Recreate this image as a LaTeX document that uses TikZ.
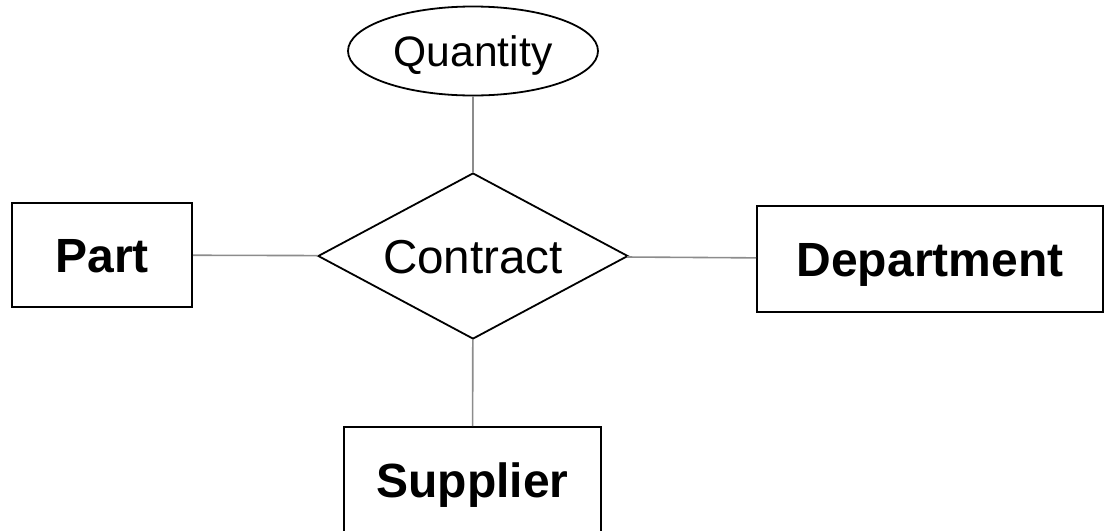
\documentclass[tikz,border=0pt]{standalone}
\usepackage{fontspec}
\setmainfont{Liberation Sans}
\usepackage{tikz}
\usetikzlibrary{shapes}

\begin{document}
\begin{tikzpicture}[x=0.5pt, y=-0.5pt,
    entity/.style={draw, line width=1pt, font=\fontsize{24}{28}\selectfont\bfseries,
                   inner sep=0pt, text height=17.2pt, text depth=0pt},
    conn/.style={draw=black!45, line width=0.8pt}]
  \useasboundingbox (0,0) rectangle (1105,531);

  \node[draw, ellipse, line width=0.9pt, minimum width=125pt, minimum height=44.5pt, inner sep=0pt,
        text height=15.2pt, text depth=0pt, font=\fontsize{21.3}{25}\selectfont] (qty) at (473,51) {Quantity};
  \node[draw, diamond, aspect=1.87, line width=0.9pt, minimum width=155pt, minimum height=83pt,
        inner sep=2pt, text height=17pt, text depth=0pt, font=\fontsize{23.8}{28}\selectfont] (con) at (473,256) {Contract};
  \node[entity, minimum width=90pt, minimum height=52pt] (part) at (102,255) {Part};
  \node[entity, minimum width=173pt, minimum height=53pt] (dept) at (930,259) {Department};
  \node[entity, minimum width=128.5pt, minimum height=53pt] (sup) at (472.5,480) {Supplier};

  \path[conn] (qty) edge (con);
  \path[conn] (part) edge (con);
  \path[conn] (con) edge (dept);
  \path[conn] (con) edge (sup);
\end{tikzpicture}
\end{document}
